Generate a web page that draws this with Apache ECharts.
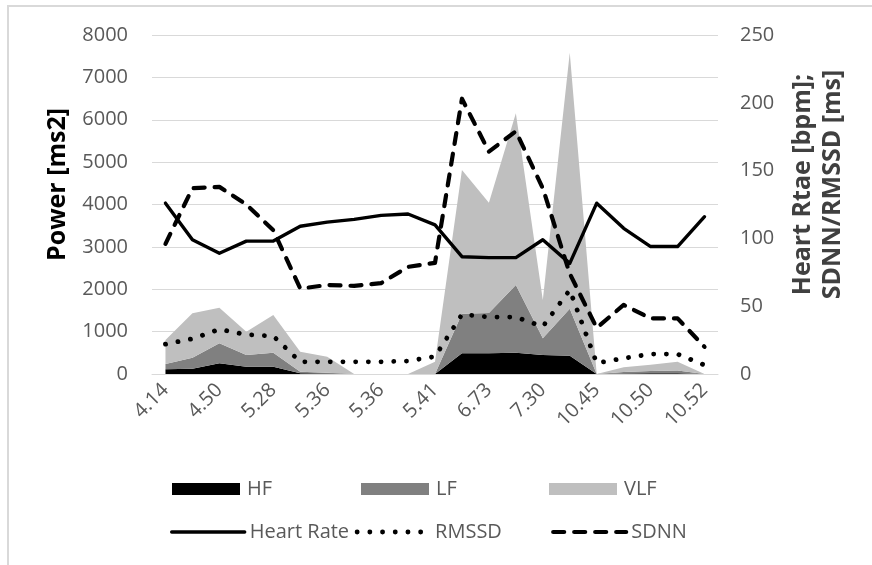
<!DOCTYPE html>
<html>
<head>
<meta charset="utf-8">
<script src="https://cdn.jsdelivr.net/npm/echarts@6/dist/echarts.min.js"></script>
<style>
  html, body { margin: 0; padding: 0; background: #fff; }
  #chart { width: 872px; height: 565px; }
</style>
</head>
<body>
<div id="chart"></div>
<script>
// Category labels (every other one is printed on the axis)
const categories = ['4.14', '4.29', '4.50', '4.93', '5.28', '5.33', '5.36', '5.36', '5.36', '5.38', '5.41',
                    '5.92', '6.73', '7.02', '7.30', '8.85', '10.45', '10.48', '10.50', '10.51', '10.52'];

// Spectral power components, stacked [ms2]
const hf  = [110, 126, 252, 173, 173, 20, 10, 0, 0, 0, 0, 488, 488, 503, 448, 430, 0, 10, 20, 20, 0];
const lf  = [126, 259, 472, 275, 330, 35, 20, 0, 0, 0, 0, 932, 952, 1597, 394, 1110, 0, 40, 50, 60, 0];
const vlf = [566, 1047, 841, 550, 889, 471, 379, 0, 0, 0, 290, 3394, 2600, 4052, 904, 6040, 0, 110, 150, 210, 0];

// Heart rate [bpm], SDNN and RMSSD [ms] on the secondary axis
const heartRate = [126, 99, 89, 98, 98, 109, 112, 114, 117, 118, 110, 86.5, 85.8, 85.8, 99, 81.6, 126, 107.4, 94, 94, 116];
const sdnn      = [96, 137, 138, 125, 106, 63, 65.6, 65, 67, 79, 82, 203, 164, 179, 137, 74, 34, 51, 41, 41, 20];
const rmssd     = [22, 26, 33, 29, 28, 9, 9, 9, 9, 9.6, 12.8, 44, 42, 42, 35, 62, 8, 11.6, 14.7, 14.7, 6.6];

const FONT = "'Open Sans', 'Noto Sans', sans-serif";
const GREY = '#595959';

const chart = echarts.init(document.getElementById('chart'), null, { renderer: 'canvas' });

function areaSeries(name, data, color) {
  return {
    name, type: 'line', data, stack: 'power', yAxisIndex: 0,
    symbol: 'none', smooth: false,
    color,
    lineStyle: { width: 0 },
    areaStyle: { color, opacity: 1 },
    z: 1
  };
}

function lineSeries(name, data, lineStyle) {
  return {
    name, type: 'line', data, yAxisIndex: 1,
    symbol: 'none', smooth: false,
    color: '#000',
    lineStyle: Object.assign({ color: '#000' }, lineStyle),
    z: 3
  };
}

const legendText = { color: GREY, fontSize: 20, fontFamily: FONT, lineHeight: 22, padding: [0, 0, 0, 2] };
const lineLegendText = { color: GREY, fontSize: 20, fontFamily: FONT, lineHeight: 22 };
const withWidth = (base, w) => Object.assign({}, base, { width: w });
const plain = v => String(v);

chart.setOption({
  animation: false,
  backgroundColor: '#fff',
  textStyle: { fontFamily: FONT },
  graphic: [{
    type: 'rect',
    shape: { x: 8, y: 6, width: 1000, height: 800 },
    style: { fill: null, stroke: '#d9d9d9', lineWidth: 2 },
    silent: true
  }],
  grid: { left: 152, right: 154, top: 35, bottom: 191, containLabel: false },
  legend: [{
    data: [
      { name: 'HF', icon: 'rect', textStyle: withWidth(legendText, 109) },
      { name: 'LF', icon: 'rect', textStyle: withWidth(legendText, 108) },
      { name: 'VLF', icon: 'rect', textStyle: withWidth(legendText, 60) }
    ],
    left: 172, top: 478, padding: 0, itemWidth: 68, itemHeight: 12, itemGap: 5,
    textStyle: legendText
  }, {
    data: [
      { name: 'Heart Rate', textStyle: withWidth(lineLegendText, 100) },
      { name: 'RMSSD', textStyle: withWidth(lineLegendText, 111) },
      { name: 'SDNN', textStyle: withWidth(lineLegendText, 60) }
    ],
    left: 170, top: 521, padding: 0, itemWidth: 73, itemHeight: 12, itemGap: 5,
    itemStyle: { opacity: 0 },
    lineStyle: { width: 'inherit' },
    textStyle: lineLegendText
  }],
  xAxis: {
    type: 'category',
    data: categories,
    boundaryGap: true,
    axisLine: { lineStyle: { color: '#d9d9d9', width: 1 } },
    axisTick: { show: false },
    axisLabel: { interval: 1, rotate: 45, margin: 13, color: GREY, fontSize: 20, fontFamily: FONT }
  },
  yAxis: [{
    type: 'value', min: 0, max: 8000, interval: 1000, position: 'left',
    name: 'Power [ms2]', nameLocation: 'middle', nameRotate: 90, nameGap: 82,
    nameTextStyle: { color: '#000', fontSize: 25, fontWeight: 'bold', fontFamily: FONT, padding: [0, 0, 0, 40] },
    axisLine: { show: false }, axisTick: { show: false },
    axisLabel: { color: GREY, fontSize: 20, margin: 24, fontFamily: FONT, formatter: plain },
    splitLine: { lineStyle: { color: '#d9d9d9', width: 1 } }
  }, {
    type: 'value', min: 0, max: 250, interval: 50, position: 'right',
    name: 'Heart Rtae [bpm];\nSDNN/RMSSD [ms]', nameLocation: 'middle', nameRotate: 90, nameGap: 70,
    nameTextStyle: { color: '#404040', fontSize: 25, fontWeight: 'bold', fontFamily: FONT, lineHeight: 30, align: 'center', padding: [0, 0, 0, 40] },
    axisLine: { show: false }, axisTick: { show: false },
    axisLabel: { color: GREY, fontSize: 20, margin: 22, fontFamily: FONT, formatter: plain },
    splitLine: { show: false }
  }],
  series: [
    areaSeries('HF', hf, '#000000'),
    areaSeries('LF', lf, '#808080'),
    areaSeries('VLF', vlf, '#bfbfbf'),
    lineSeries('Heart Rate', heartRate, { width: 3.4, type: 'solid', cap: 'round', join: 'round' }),
    lineSeries('RMSSD', rmssd, { width: 4.8, type: [0.1, 12.6], cap: 'round', join: 'round' }),
    lineSeries('SDNN', sdnn, { width: 4.2, type: [11, 10], cap: 'round', join: 'round' })
  ]
});
</script>
</body>
</html>
